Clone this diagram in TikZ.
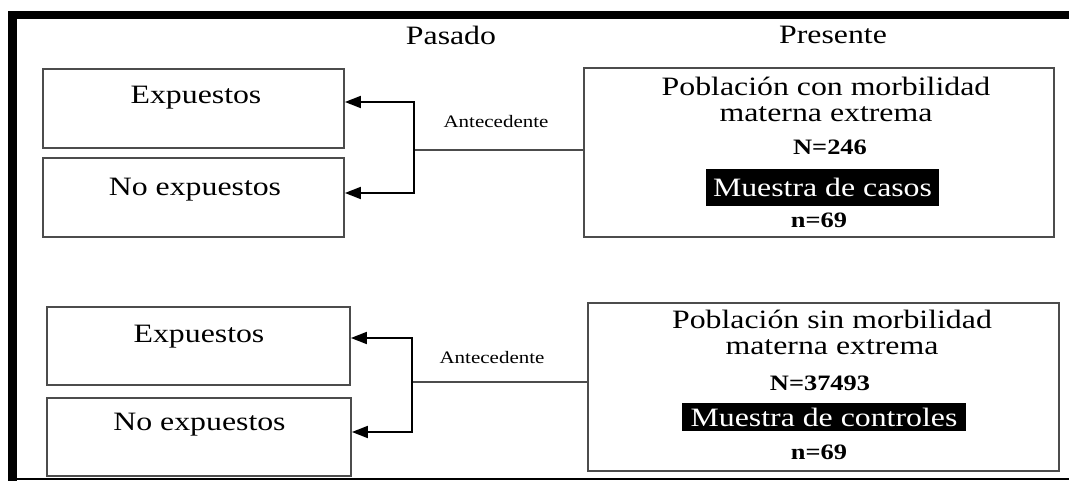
\documentclass[tikz,border=0pt]{standalone}
\usepackage{fontspec}
\setmainfont[FakeStretch=1.2]{Liberation Serif}
\usetikzlibrary{arrows.meta}

\begin{document}
\begin{tikzpicture}[x=1pt, y=-1pt,
		caja/.style={draw=black!70, line width=1.8pt, inner sep=0pt},
		texto/.style={font=\fontsize{26.5}{30}\selectfont, inner sep=0pt},
		chico/.style={font=\fontsize{17.5}{20}\selectfont, inner sep=0pt},
		cifra/.style={font=\fontsize{22}{25}\selectfont\bfseries, inner sep=0pt},
		muestra/.style={fill=black, text=white, font=\fontsize{26.5}{30}\selectfont, inner sep=0pt},
		flecha/.style={line width=1.8pt, -{Triangle[length=16pt,width=12pt]}},
		enlace/.style={draw=black!70, line width=1.6pt}]
	\useasboundingbox (0,0) rectangle (1069,481);
	\fill (8,11) rectangle (1069,19);
	\fill (8,11) rectangle (17,481);
	\fill (8,477.5) rectangle (1069,480);

	\node[texto] (pasado) at (451,35) {Pasado};
	\node[texto] (presente) at (833,35) {Presente};

	% grupo de casos
	\node[caja, minimum width=301pt, minimum height=79pt] (exp1) at (193.5,108.5) {};
	\node[caja, minimum width=301pt, minimum height=79pt] (noexp1) at (193.5,197.5) {};
	\node[texto] (exp1t) at (196,98) {Expuestos};
	\node[texto] (noexp1t) at (195,190) {No expuestos};
	\node[caja, minimum width=470pt, minimum height=169pt] (pob1) at (819,152.5) {};
	\node[texto] (pob1a) at (826,86) {Población con morbilidad};
	\node[texto] (pob1b) at (826,114) {materna extrema};
	\node[cifra] (pob1n) at (830,147) {N=246};
	\node[muestra, minimum width=233pt, minimum height=37pt] (casos) at (822.5,187.5) {Muestra de casos};
	\node[cifra] (casosn) at (819,220) {n=69};
	\coordinate (jun1) at (414,150);
	\draw[enlace] (jun1) -- (jun1 -| pob1.west);
	\draw[flecha] (jun1) |- ([yshift=6.5pt]exp1.east);
	\draw[flecha] (jun1) |- ([yshift=4.5pt]noexp1.east);
	\node[chico] (ant1) at (496,122) {Antecedente};

	% grupo de controles
	\node[caja, minimum width=303pt, minimum height=78pt] (exp2) at (198.5,346) {};
	\node[caja, minimum width=304pt, minimum height=78pt] (noexp2) at (199,437) {};
	\node[texto] (exp2t) at (199,337) {Expuestos};
	\node[texto] (noexp2t) at (199.5,425) {No expuestos};
	\node[caja, minimum width=471pt, minimum height=168pt] (pob2) at (823.5,387) {};
	\node[texto] (pob2a) at (832,319) {Población sin morbilidad};
	\node[texto] (pob2b) at (832,347) {materna extrema};
	\node[cifra] (pob2n) at (820,383) {N=37493};
	\node[muestra, minimum width=284pt, minimum height=28pt] (controles) at (824,417) {Muestra de controles};
	\node[cifra] (controlesn) at (819,452) {n=69};
	\coordinate (jun2) at (412,382);
	\draw[enlace] (jun2) -- (jun2 -| pob2.west);
	\draw[flecha] (jun2) |- ([yshift=8pt]exp2.east);
	\draw[flecha] (jun2) |- ([yshift=5pt]noexp2.east);
	\node[chico] (ant2) at (492,358) {Antecedente};
\end{tikzpicture}
\end{document}
